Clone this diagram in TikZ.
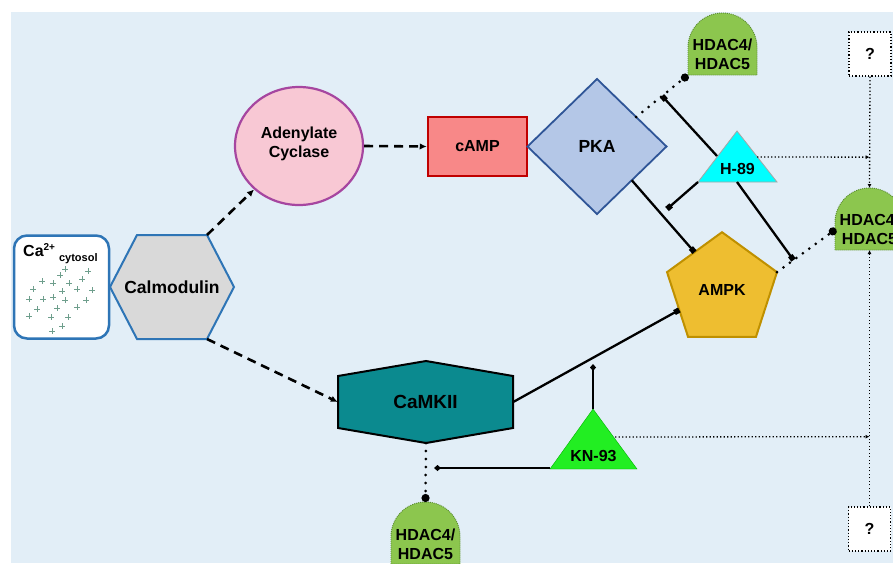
\documentclass[tikz,border=0pt]{standalone}
\usepackage{fontspec}
\setmainfont{Liberation Sans}
\usepackage{tikz}
\usetikzlibrary{shapes.geometric,arrows.meta}

\definecolor{bgblue}{RGB}{226,238,247}
\definecolor{calblue}{RGB}{46,117,182}
\definecolor{calgrey}{RGB}{217,217,217}
\definecolor{acpink}{RGB}{248,200,212}
\definecolor{acpurple}{RGB}{166,70,160}
\definecolor{camppink}{RGB}{248,136,136}
\definecolor{campred}{RGB}{192,0,0}
\definecolor{pkablue}{RGB}{180,199,231}
\definecolor{pkaedge}{RGB}{47,85,151}
\definecolor{ampkgold}{RGB}{238,190,48}
\definecolor{ampkedge}{RGB}{191,144,0}
\definecolor{hcyan}{RGB}{0,255,255}
\definecolor{knlime}{RGB}{34,238,34}
\definecolor{camteal}{RGB}{11,138,143}
\definecolor{hdacgreen}{RGB}{140,198,78}
\definecolor{hdacedge}{RGB}{90,140,50}
\definecolor{iongreen}{RGB}{110,158,140}

\begin{document}
\begin{tikzpicture}[x=1pt,y=-1pt,
	lbl/.style={font=\fontsize{16}{19}\selectfont\bfseries,align=center,inner sep=0pt},
	dasharrow/.style={line width=2.6pt,dash pattern=on 9pt off 6pt,-{Latex[length=7pt,width=6.5pt]}},
	blocker/.style={line width=2.3pt,-{Square[length=5.5pt,width=5.5pt]}},
	kntip/.style={line width=2.3pt,-{Diamond[length=7pt,width=6pt]}},
	hdacdots/.style={line width=3pt,line cap=round,dash pattern=on 0pt off 8pt,-{Circle[length=8pt]}},
	qdots/.style={line width=1.3pt,dash pattern=on 1.3pt off 2.2pt,-{Latex[length=4pt,width=4pt]}},
	hdac/.style={fill=hdacgreen,draw=hdacedge,line width=0.9pt,dash pattern=on 1pt off 1pt},
	qbox/.style={draw,fill=white,line width=1.2pt,dash pattern=on 1.2pt off 2pt,minimum width=42,minimum height=44,font=\fontsize{16}{19}\selectfont\bfseries}]
\useasboundingbox (0,0) rectangle (893,563);
\clip (0,0) rectangle (893,563);
\fill[bgblue] (11,12) rectangle (893,563);

% cytosolic calcium
\draw (61.5,287) node[draw=calblue,fill=white,line width=2.5pt,rounded corners=13pt,minimum width=95,minimum height=103] (Ca) {};
\draw (23,256) node[lbl,anchor=base west] (CaLabel) {Ca\raisebox{6pt}{\fontsize{10}{10}\selectfont 2+}\hspace{4pt}\raisebox{-5pt}{\fontsize{11}{11}\selectfont cytosol}};
\draw[iongreen,line width=0.7pt] plot[only marks,mark=+,mark size=2.6pt] coordinates {(88,271) (65,269) (60,275) (82,279) (42,281) (53,283) (69,283) (33,289) (62,291) (77,289) (92,290) (29,299) (43,299) (53,297) (65,300) (86,300) (37,309) (57,308) (77,307) (29,316) (51,317) (68,317) (62,326) (52,331)};

% calmodulin
\draw[fill=calgrey,draw=calblue,line width=2pt] (110,287) -- (137,235) -- (207,235) -- (234,287) -- (207,339) -- (137,339) -- cycle;
\draw (172,287) node[lbl,font=\fontsize{17.5}{20}\selectfont\bfseries] (Calmodulin) {Calmodulin};
\coordinate (CalNE) at (207,235);
\coordinate (CalSE) at (207,339);

% cAMP branch
\draw (299,146) node[ellipse,draw=acpurple,fill=acpink,line width=2.2pt,minimum width=128,minimum height=118,inner sep=0pt] (AdCyc) {};
	\draw (299,144) node[lbl] (AdCycLabel) {Adenylate\\Cyclase};
\draw (477.5,146.5) node[rectangle,draw=campred,fill=camppink,line width=2.5pt,minimum width=99,minimum height=59,lbl] (cAMP) {cAMP};
\draw (597,146.5) node[diamond,draw=pkaedge,fill=pkablue,line width=1.8pt,minimum width=139,minimum height=135,inner sep=0pt,outer sep=0pt,lbl,font=\fontsize{17.5}{20}\selectfont\bfseries] (PKA) {PKA};
\draw (722,290) node[regular polygon,regular polygon sides=5,draw=ampkedge,fill=ampkgold,line width=2pt,minimum size=115.6,inner sep=0pt,outer sep=0pt,lbl] (AMPK) {AMPK};

% CaMKII
\draw[fill=camteal,line width=2pt] (338,376) -- (426,361) -- (513,376) -- (513,428) -- (426,443) -- (338,428) -- cycle;
\draw (425.5,402) node[lbl,font=\fontsize{19}{22}\selectfont\bfseries,minimum width=175,minimum height=52] (CaMKII) {CaMKII};
\coordinate (CaMKIIS) at (426,443);

% inhibitors
\draw[fill=hcyan,draw=gray!70,line width=0.8pt] (737,131) -- (777,182) -- (698,182) -- cycle;
	\draw (737.5,169) node[lbl] (H89) {H-89};
	\coordinate (H89UL) at (717,156);
	\coordinate (H89L) at (698,182);
	\coordinate (H89B) at (737,182);
	\coordinate (H89ER) at (757,157);
\draw[fill=knlime,draw=green!70!black,line width=0.4pt] (593,409) -- (637,469) -- (550,469) -- cycle;
	\draw (593.5,456) node[lbl] (KN93) {KN-93};
	\coordinate (KN93Top) at (593,409);
	\coordinate (KN93L) at (550,468);
	\coordinate (KN93ER) at (615,437);

% HDAC4/HDAC5 and unknowns
\draw[hdac] (688,75) -- (688,47.5) arc[start angle=180,end angle=360,radius=34.5] -- (757,75) -- cycle;
	\draw (722.5,54) node[lbl] (HdacTop) {HDAC4/\\HDAC5};
	\coordinate (HdacTopDot) at (688,75);
\draw[hdac] (835,250) -- (835,222.5) arc[start angle=180,end angle=360,radius=34.5] -- (904,250) -- cycle;
	\draw (869.5,229) node[lbl] (HdacRight) {HDAC4/\\HDAC5};
	\coordinate (HdacRightDot) at (836,229);
	\coordinate (HdacRightTop) at (869.5,188);
	\coordinate (HdacRightBot) at (869.5,250);
\draw[hdac] (391,564) -- (391,536.5) arc[start angle=180,end angle=360,radius=34.5] -- (460,564) -- cycle;
	\draw (425.5,544) node[lbl] (HdacBot) {HDAC4/\\HDAC5};
	\coordinate (HdacBotDot) at (425.5,502);
\draw (870,54) node[qbox] (QTop) {?};
\draw (869.5,529) node[qbox] (QBot) {?};

% activation
\draw[dasharrow] (CalNE) -- (AdCyc);
\draw[dasharrow] (CalSE) -- (CaMKII.west);
\draw[dasharrow] (AdCyc.east) -- (cAMP.west);
\draw[blocker] (PKA.south east) -- (AMPK.side 1);
\draw[blocker] (CaMKII.east) -- (AMPK.205);

% HDAC phosphorylation
\draw[hdacdots] (PKA.37) -- coordinate[pos=0.5] (PkaBlock) (HdacTopDot);
\draw[hdacdots] (AMPK.corner 5) -- coordinate[pos=0.28] (AmpkBlock) (HdacRightDot);
\draw[hdacdots] (CaMKIIS) -- (HdacBotDot);

% inhibition
\coordinate (PkaAmpkBlock) at (667,209);
\coordinate (CamkBlock) at (593,364);
\coordinate (CamkHdacBlock) at (434,468);
\draw[blocker] (H89UL) -- (PkaBlock);
\draw[blocker] (H89L) -- (PkaAmpkBlock);
\draw[blocker] (H89B) -- (AmpkBlock);
\draw[kntip] (KN93Top) -- (CamkBlock);
\draw[kntip] (KN93L) -- (CamkHdacBlock);

% unknown pathways
\draw[qdots] (QTop.south) -- coordinate[pos=0.723] (QTopJoin) (HdacRightTop);
\draw[qdots] (QBot.north) -- coordinate[pos=0.272] (QBotJoin) (HdacRightBot);
\draw[qdots] (H89ER) -- (QTopJoin);
\draw[qdots] (KN93ER) -- (QBotJoin);
\end{tikzpicture}
\end{document}
